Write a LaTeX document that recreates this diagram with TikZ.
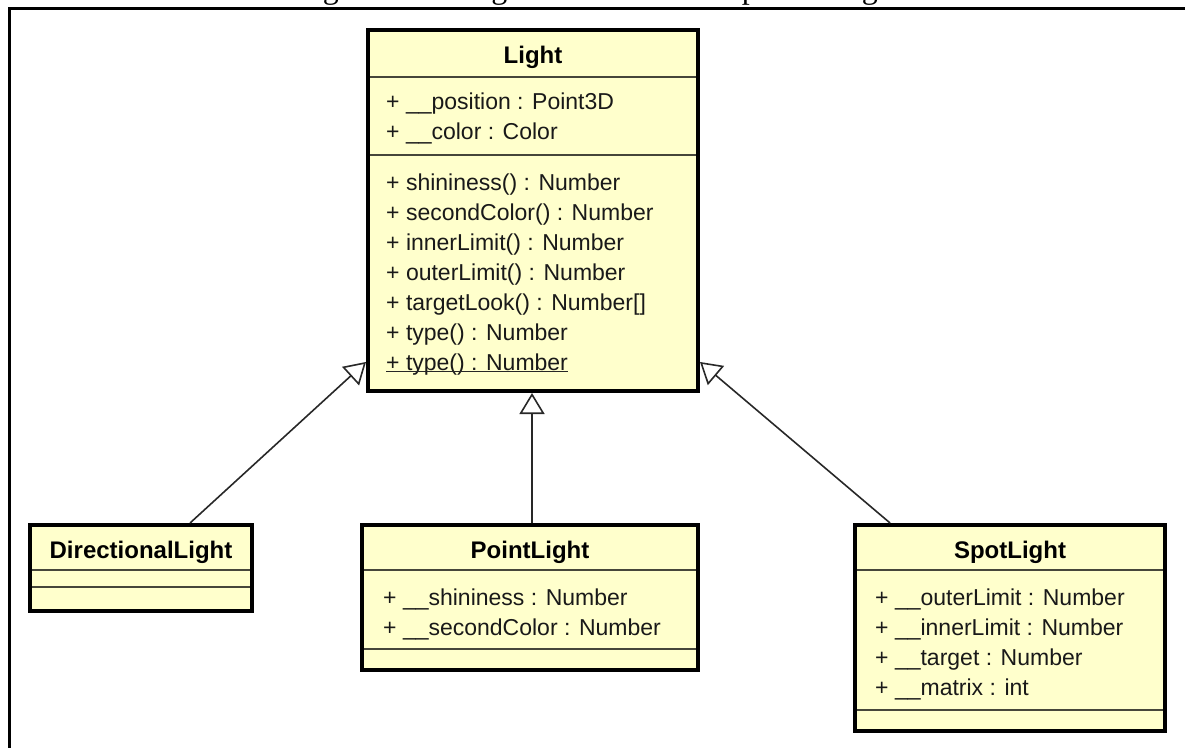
\documentclass[tikz,border=0pt]{standalone}
\usepackage{fontspec}
\setsansfont{Liberation Sans}
\newfontfamily\capfont{Liberation Serif}
\usetikzlibrary{arrows.meta,calc}

\definecolor{classfill}{RGB}{255,255,204}
\definecolor{sepcol}{RGB}{70,70,58}
\definecolor{linkcol}{RGB}{40,40,40}

\tikzset{
  umlbox/.style={draw=black, fill=classfill, line width=4pt, rectangle,
                 inner sep=0pt, outer sep=2pt},
  sepline/.style={draw=sepcol, line width=1.5pt, shorten <=4pt, shorten >=4pt},
  classname/.style={font=\sffamily\bfseries\fontsize{24}{28}\selectfont,
                    inner sep=0pt, anchor=base},
  member/.style={font=\sffamily\fontsize{23}{28}\selectfont, text=black!90,
                 inner sep=0pt, anchor=base west},
  gen/.style={draw=linkcol, line width=1.6pt,
              -{Triangle[open, length=21pt, width=25pt, fill=white]}},
}

\begin{document}
\begin{tikzpicture}[x=1pt, y=-1pt]
\useasboundingbox (0,0) rectangle (1185,747);
\clip (0,0) rectangle (1185,747);

% figure caption, above the frame
\node[font=\capfont\fontsize{32}{36}\selectfont, inner sep=0pt, anchor=base west]
  (caption) at (296,-1.5) {Figura 11 - Diagrama de classe do pacote Light};

% page frame
\draw[line width=3.3pt] (9.5,760) -- (9.5,8.3) -- (1200,8.3);

% ---------- Light ----------
\node[umlbox, minimum width=330pt, minimum height=361pt] (light) at (533,210.5) {};
\node[classname] (lightname) at (533,63.5) {Light};
\draw[sepline] (light.west |- 0,77) -- (light.east |- 0,77);
\draw[sepline] (light.west |- 0,155) -- (light.east |- 0,155);
\node[member] (la1) at (386,109) {+ \_\_position : Point3D};
\node[member] (la2) at (386,139) {+ \_\_color : Color};
\node[member] (lm1) at (386,190) {+ shininess() : Number};
\node[member] (lm2) at (386,220) {+ secondColor() : Number};
\node[member] (lm3) at (386,250) {+ innerLimit() : Number};
\node[member] (lm4) at (386,280) {+ outerLimit() : Number};
\node[member] (lm5) at (386,310) {+ targetLook() : Number[]};
\node[member] (lm6) at (386,340) {+ type() : Number};
\node[member] (lm7) at (386,370) {+ type() : Number};
\draw[line width=1.4pt, black!85] ([yshift=-1.5pt]lm7.base west) -- ([yshift=-1.5pt]lm7.base east);

% ---------- DirectionalLight ----------
\node[umlbox, minimum width=222pt, minimum height=86pt] (dirl) at (141,568) {};
\node[classname] (dirlname) at (141,558.5) {DirectionalLight};
\draw[sepline] (dirl.west |- 0,570) -- (dirl.east |- 0,570);
\draw[sepline] (dirl.west |- 0,587) -- (dirl.east |- 0,587);

% ---------- PointLight ----------
\node[umlbox, minimum width=336pt, minimum height=145pt] (pointl) at (530,597.5) {};
\node[classname] (pointlname) at (530,558.5) {PointLight};
\draw[sepline] (pointl.west |- 0,570) -- (pointl.east |- 0,570);
\draw[sepline] (pointl.west |- 0,649) -- (pointl.east |- 0,649);
\node[member] (pa1) at (383,605) {+ \_\_shininess : Number};
\node[member] (pa2) at (383,635) {+ \_\_secondColor : Number};

% ---------- SpotLight ----------
\node[umlbox, minimum width=310pt, minimum height=206pt] (spotl) at (1010,628) {};
\node[classname] (spotlname) at (1010,558.5) {SpotLight};
\draw[sepline] (spotl.west |- 0,570) -- (spotl.east |- 0,570);
\draw[sepline] (spotl.west |- 0,710) -- (spotl.east |- 0,710);
\node[member] (sa1) at (875,605) {+ \_\_outerLimit : Number};
\node[member] (sa2) at (875,635) {+ \_\_innerLimit : Number};
\node[member] (sa3) at (875,665) {+ \_\_target : Number};
\node[member] (sa4) at (875,695) {+ \_\_matrix : int};

% ---------- generalizations ----------
\draw[gen] ($(dirl.north west)!0.717!(dirl.north east)$)
        -- ($(light.north west)!0.915!(light.south west)$);
\draw[gen] ($(pointl.north west)!0.506!(pointl.north east)$)
        -- ($(light.south west)!0.497!(light.south east)$);
\draw[gen] ($(spotl.north west)!0.118!(spotl.north east)$)
        -- ($(light.north east)!0.915!(light.south east)$);
\end{tikzpicture}
\end{document}
